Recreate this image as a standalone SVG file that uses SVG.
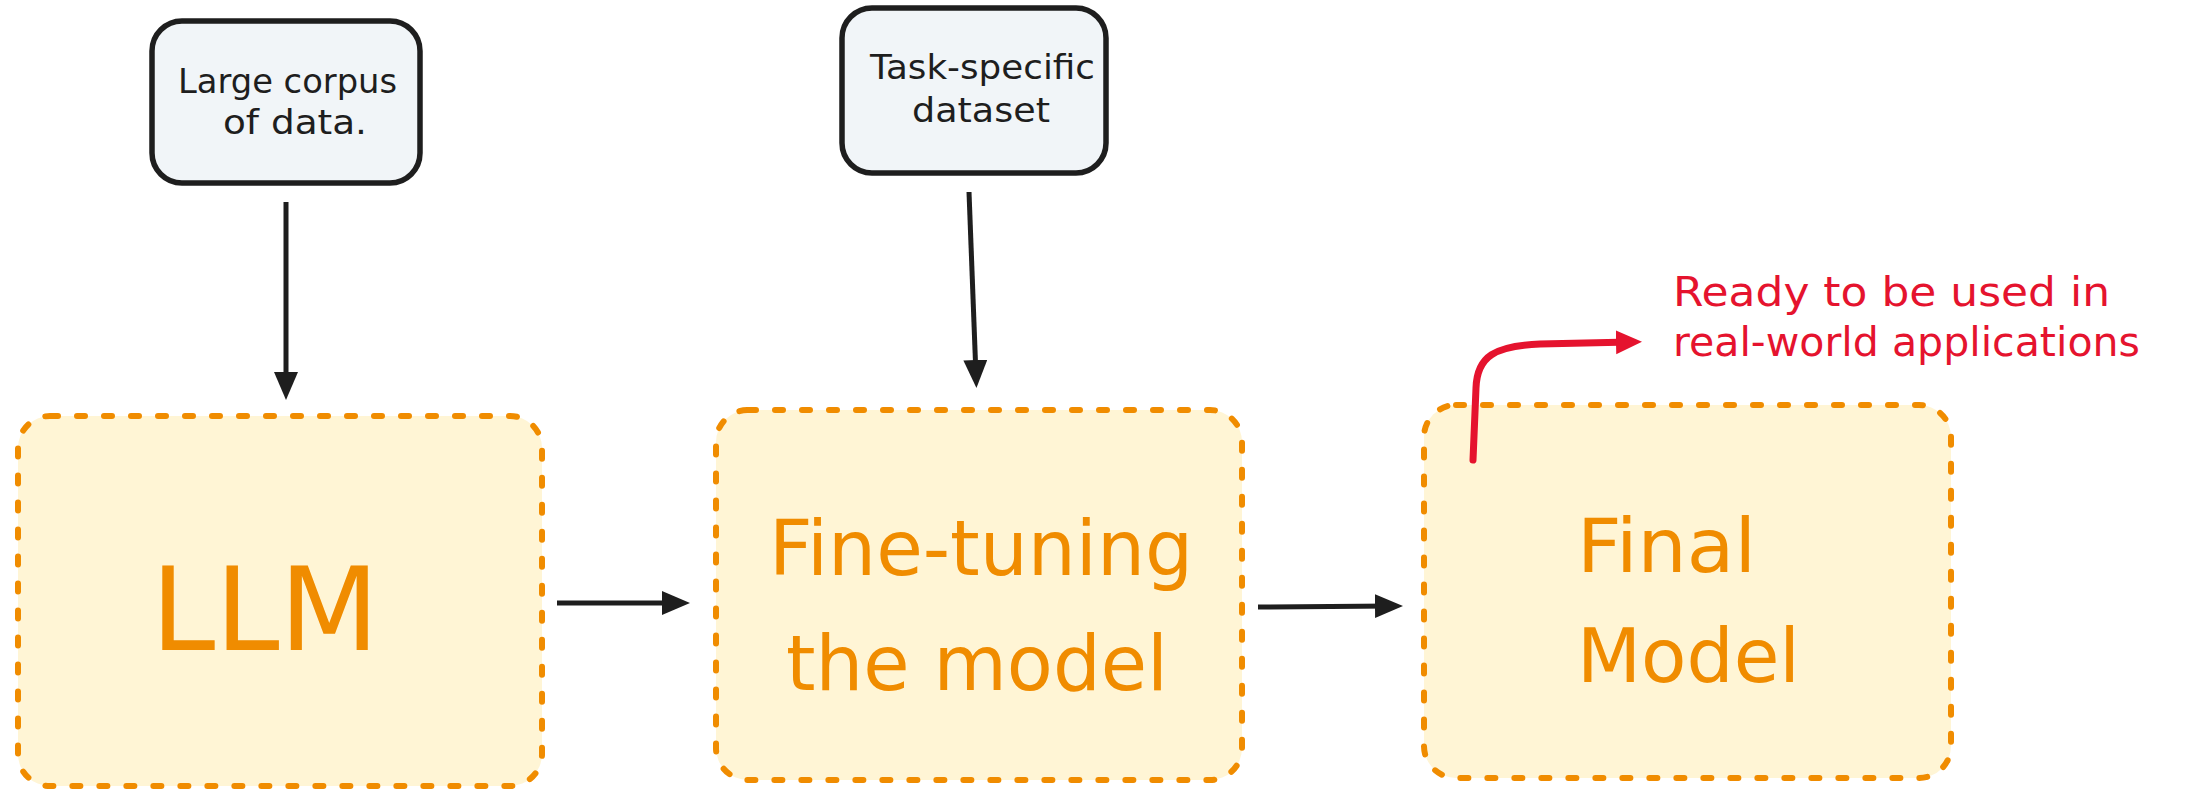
<svg xmlns="http://www.w3.org/2000/svg" width="2185" height="789" viewBox="0 0 2185 789">
<style>
.src{fill:#f1f5f8;stroke:#1e1e1e;stroke-width:5.5}
.stage{fill:#fff5d5;stroke:#f08c00;stroke-width:6;stroke-dasharray:8 19;stroke-linecap:round}
.t{font-family:"DejaVu Sans",sans-serif}
.blk{fill:#1e1e1e}
.org{fill:#f08c00}
.red{fill:#e5132e}
.conn{stroke:#1e1e1e;stroke-width:5;fill:none;marker-end:url(#ah)}
.rconn{stroke:#e5132e;stroke-width:7;fill:none;stroke-linecap:round;marker-end:url(#rah)}
</style>
<defs>
<marker id="ah" markerUnits="userSpaceOnUse" markerWidth="32" markerHeight="28" refX="16" refY="12" orient="auto" viewBox="0 0 32 28">
<path d="M0,0 L28,12 L0,24 z" fill="#1e1e1e"/>
</marker>
<marker id="rah" markerUnits="userSpaceOnUse" markerWidth="30" markerHeight="28" refX="14" refY="12" orient="auto" viewBox="0 0 30 28">
<path d="M0,0 L26,12 L0,24 z" fill="#e5132e"/>
</marker>
</defs>
<rect width="2185" height="789" fill="#ffffff"/>
<g id="node-corpus">
<rect class="src" x="152" y="21" width="268" height="162" rx="30"/>
<text class="t blk" font-size="34" x="178" y="93" textLength="219" lengthAdjust="spacingAndGlyphs">Large corpus</text>
<text class="t blk" font-size="34" x="223" y="134" textLength="144" lengthAdjust="spacingAndGlyphs">of data.</text>
</g>
<g id="node-dataset">
<rect class="src" x="842" y="8" width="264" height="165" rx="30"/>
<text class="t blk" font-size="34" x="870" y="79" textLength="225" lengthAdjust="spacingAndGlyphs">Task-specific</text>
<text class="t blk" font-size="34" x="912" y="122" textLength="138" lengthAdjust="spacingAndGlyphs">dataset</text>
</g>
<g id="node-llm">
<rect class="stage" x="18" y="416" width="524" height="370" rx="32"/>
<text class="t org" font-size="115" x="151" y="650" textLength="228" lengthAdjust="spacingAndGlyphs">LLM</text>
</g>
<g id="node-finetune">
<rect class="stage" x="716" y="410" width="526" height="370" rx="32"/>
<text class="t org" font-size="77" x="769" y="575" textLength="424" lengthAdjust="spacingAndGlyphs">Fine-tuning</text>
<text class="t org" font-size="77" x="786" y="690" textLength="382" lengthAdjust="spacingAndGlyphs">the model</text>
</g>
<g id="node-final">
<rect class="stage" x="1424" y="405" width="527" height="373" rx="32"/>
<text class="t org" font-size="75" x="1577" y="572" textLength="179" lengthAdjust="spacingAndGlyphs">Final</text>
<text class="t org" font-size="75" x="1577" y="682" textLength="223" lengthAdjust="spacingAndGlyphs">Model</text>
</g>
<g id="note-ready">
<text class="t red" font-size="41" x="1673" y="306" textLength="437" lengthAdjust="spacingAndGlyphs">Ready to be used in</text>
<text class="t red" font-size="41" x="1673" y="356" textLength="467" lengthAdjust="spacingAndGlyphs">real-world applications</text>
</g>
<g id="connectors">
<path class="conn" d="M286,202 L286,388"/>
<path class="conn" d="M969,192 L976,376"/>
<path class="conn" d="M557,603 L678,603"/>
<path class="conn" d="M1258,607 L1391,606"/>
<path class="rconn" d="M1473,460 L1476,388 C1477,356 1495,346 1540,344 L1630,342"/>
</g>
</svg>
